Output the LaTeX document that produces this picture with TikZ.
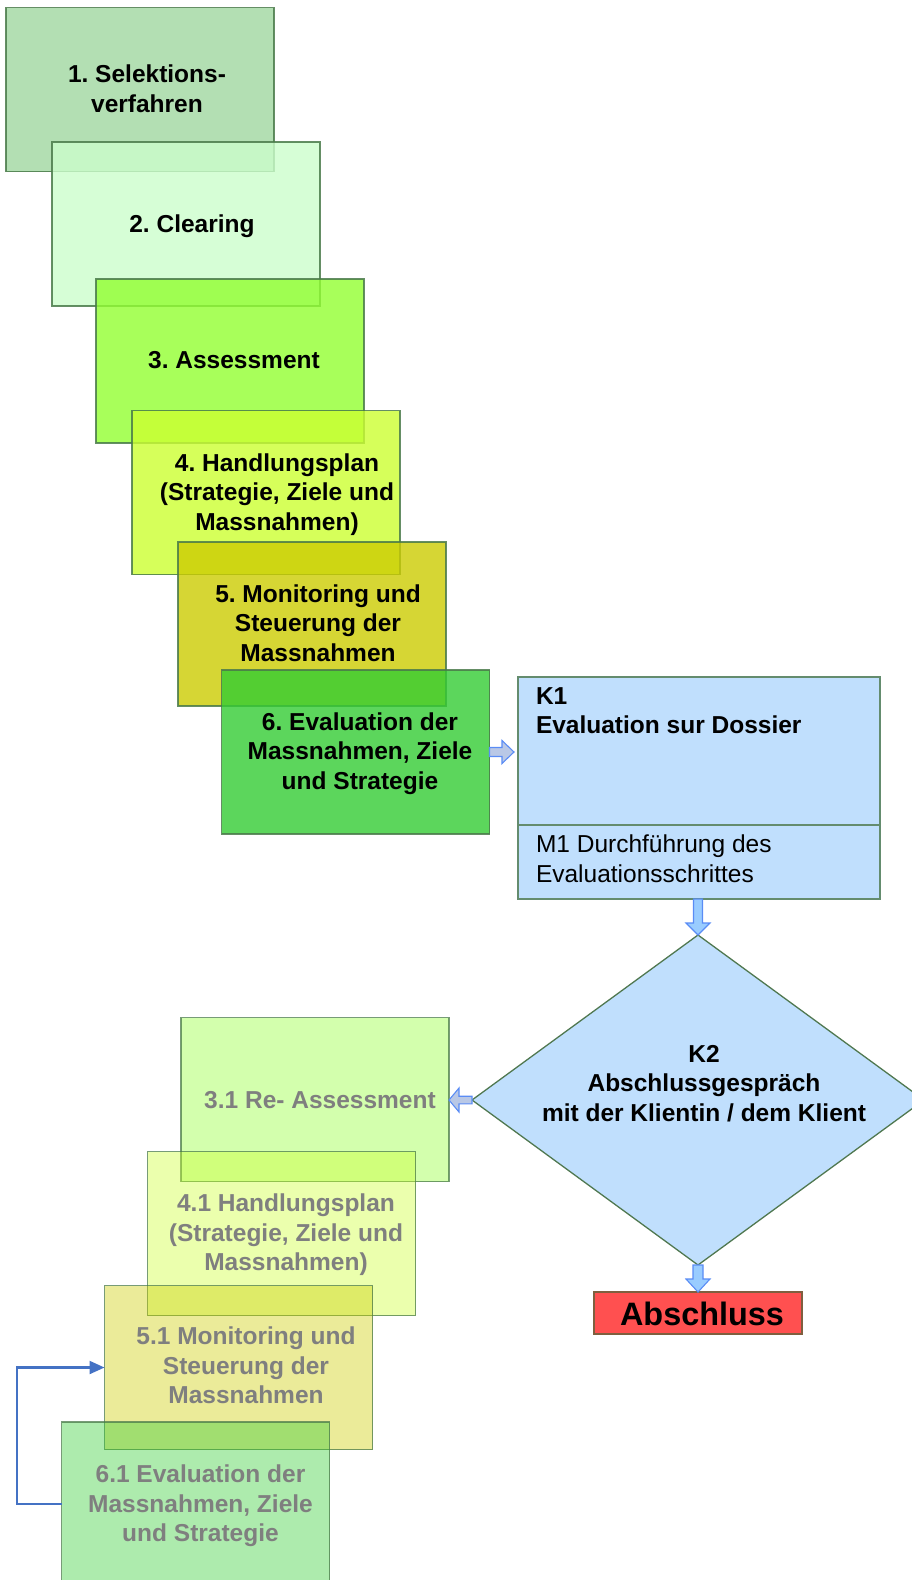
\documentclass[tikz,border=0pt]{standalone}
\usepackage{fontspec}
\setmainfont{Liberation Sans}
\usetikzlibrary{shapes.geometric,calc,arrows.meta}
\frenchspacing

\definecolor{stepOne}{HTML}{A0D7A0}
\definecolor{stepTwo}{HTML}{CCFECC}
\definecolor{stepThree}{HTML}{92FF31}
\definecolor{stepFour}{HTML}{CCFF31}
\definecolor{stepFive}{HTML}{CCCC01}
\definecolor{stepSix}{HTML}{33CC33}
\definecolor{boxEdge}{HTML}{4A7A4A}
\definecolor{paleBlue}{HTML}{C0DFFD}
\definecolor{blueEdge}{HTML}{648C6E}
\definecolor{diaEdge}{HTML}{507850}
\definecolor{arrowFillA}{HTML}{B9C8E6}
\definecolor{arrowFillB}{HTML}{99CCFF}
\definecolor{arrowEdge}{HTML}{5A8CF5}
\definecolor{endRed}{HTML}{FF5050}
\definecolor{endEdge}{HTML}{7F5F3F}
\definecolor{mutedText}{HTML}{7F7F7F}
\definecolor{loopBlue}{HTML}{4472C4}

\begin{document}
\begin{tikzpicture}[x=1pt, y=-1pt,
  every node/.style={outer sep=0pt},
  stepbox/.style={rectangle, inner sep=0pt, minimum width=268pt, minimum height=164pt,
    draw=boxEdge, draw opacity=0.85, line width=1.6pt},
  mainstep/.style={stepbox, fill=#1, fill opacity=0.8},
  redostep/.style={stepbox, fill=#1, fill opacity=0.4, draw opacity=0.75},
  steptext/.style={inner sep=0pt, align=center, font=\bfseries\fontsize{24.5}{29.5}\selectfont},
  redotext/.style={steptext, text=mutedText},
  plaintext/.style={inner sep=0pt, anchor=base west, font=\fontsize{24.5}{29.5}\selectfont},
  boldtext/.style={plaintext, font=\bfseries\fontsize{24.5}{29.5}\selectfont},
  bluebox/.style={rectangle, inner sep=0pt, minimum width=362pt, fill=paleBlue, draw=blueEdge, line width=1.3pt},
  blockA/.style={fill=arrowFillA, draw=arrowEdge, line width=1.1pt},
  blockB/.style={fill=arrowFillB, draw=arrowEdge, line width=1.1pt},
  loopline/.style={draw=loopBlue, line width=2.2pt, -{Triangle[length=15pt,width=13pt]}}
]
\useasboundingbox (0,0) rectangle (912,1580);
\clip (0,0) rectangle (912,1580);

% main process steps, stacked from top left
\node[mainstep=stepOne]   (b1) at (140,89.5) {};
\node[steptext] (t1) at (147,88.5) {1. Selektions-\\verfahren};
\node[mainstep=stepTwo]   (b2) at (186,224) {};
\node[steptext] (t2) at (192,226.6) {2. Clearing};
\node[mainstep=stepThree] (b3) at (230,361) {};
\node[steptext] (t3) at (234,360) {3. Assessment};
\node[mainstep=stepFour]  (b4) at (266,492.5) {};
\node[steptext] (t4) at (277,494.6) {4. Handlungsplan\\(Strategie, Ziele und\\Massnahmen)};
\node[mainstep=stepFive]  (b5) at (312,624) {};
\node[steptext] (t5) at (318,623) {5. Monitoring und\\Steuerung der\\Massnahmen};
\node[mainstep=stepSix]   (b6) at (355.5,752) {};
\node[steptext] (t6) at (360,753.6) {6. Evaluation der\\Massnahmen, Ziele\\und Strategie};

% checkpoint K1 with its measure M1
\node[bluebox, minimum height=148pt] (k1) at (699,751) {};
\node[bluebox, minimum height=74pt]  (m1) at (699,862) {};
\node[boldtext] (k1a) at (536,704) {K1};
\node[boldtext] (k1b) at (536,733) {Evaluation sur Dossier};
\node[plaintext] (m1a) at (536,852) {M1 Durchführung des};
\node[plaintext] (m1b) at (536,882) {Evaluationsschrittes};

% decision K2
\node[diamond, inner sep=0pt, minimum width=452pt, minimum height=330pt,
      fill=paleBlue, draw=diaEdge, line width=1.3pt] (dia) at (698,1100) {};
\node[steptext] (k2) at (704,1083.5) {K2\\Abschlussgespräch\\mit der Klientin / dem Klient};

% repeated steps after K2
\node[redostep=stepThree] (b31) at (315,1099.5) {};
\node[redotext] (t31) at (320,1100) {3.1 Re- Assessment};
\node[redostep=stepFour]  (b41) at (281.5,1233.5) {};
\node[redotext] (t41) at (286,1234.8) {4.1 Handlungsplan\\(Strategie, Ziele und\\Massnahmen)};
\node[redostep=stepFive]  (b51) at (238.5,1367.5) {};
\node[redotext] (t51) at (246,1365.7) {5.1 Monitoring und\\Steuerung der\\Massnahmen};
\node[redostep=stepSix]   (b61) at (195.5,1504) {};
\node[redotext] (t61) at (200.5,1505.7) {6.1 Evaluation der\\Massnahmen, Ziele\\und Strategie};

% end of the process
\node[rectangle, inner sep=0pt, minimum width=208pt, minimum height=42pt,
      fill=endRed, draw=endEdge, line width=1.3pt] (abs) at (698,1313) {};
\node[steptext, font=\bfseries\fontsize{32.4}{36}\selectfont] (abst) at (702,1313.5) {Abschluss};

% block arrows
\coordinate (r0) at (b6.east);
\coordinate (r1) at ($(k1.west |- b6.east)+(-4,0)$);
\draw[blockA] ($(r0)+(0,-4.5)$) -- ($(r1)+(-12,-4.5)$) -- ($(r1)+(-12,-11.5)$) -- (r1)
  -- ($(r1)+(-12,11.5)$) -- ($(r1)+(-12,4.5)$) -- ($(r0)+(0,4.5)$) -- cycle;

\coordinate (d0) at (dia.north |- m1.south);
\coordinate (d1) at (dia.north);
\draw[blockB] ($(d0)+(-4.5,0)$) -- ($(d1)+(-4.5,-12)$) -- ($(d1)+(-12,-12)$) -- (d1)
  -- ($(d1)+(12,-12)$) -- ($(d1)+(4.5,-12)$) -- ($(d0)+(4.5,0)$) -- cycle;

\coordinate (e0) at (dia.south);
\coordinate (e1) at (abs.north);
\draw[blockB] ($(e0)+(-5,0)$) -- ($(e1)+(-5,-13)$) -- ($(e1)+(-12,-13)$) -- (e1)
  -- ($(e1)+(12,-13)$) -- ($(e1)+(5,-13)$) -- ($(e0)+(5,0)$) -- cycle;

\coordinate (l0) at (dia.west);
\coordinate (l1) at (b31.east |- dia.west);
\draw[blockA] ($(l0)+(0,-3.8)$) -- ($(l1)+(10,-3.8)$) -- ($(l1)+(10,-12)$) -- (l1)
  -- ($(l1)+(10,12)$) -- ($(l1)+(10,3.8)$) -- ($(l0)+(0,3.8)$) -- cycle;

% feedback loop from 6.1 back to 5.1
\coordinate (loopx) at (17,0);
\draw[loopline] (b61.west) -- (b61.west -| loopx) |- (b51.west);
\end{tikzpicture}
\end{document}
